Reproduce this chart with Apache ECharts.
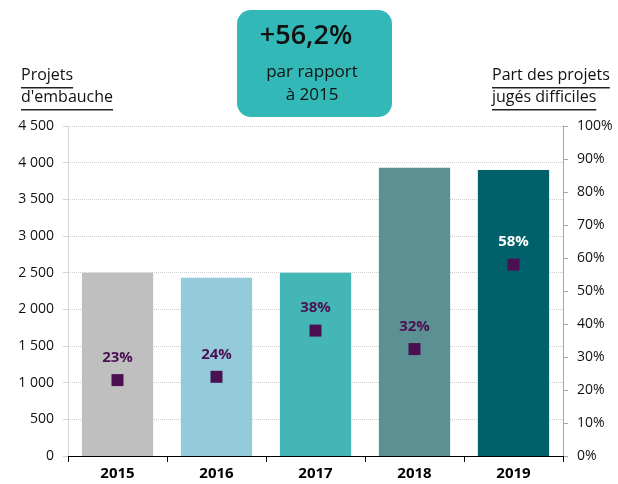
<!DOCTYPE html>
<html>
<head>
	<meta charset="utf-8">
	<title>Projets d'embauche</title>
	<script src="https://cdn.jsdelivr.net/npm/echarts@6/dist/echarts.min.js"></script>
	<style>
		html, body { margin: 0; padding: 0; background: #fff; }
		#chart { width: 618px; height: 484px; }
	</style>
</head>
<body>
	<div id="chart"></div>
	<script>
		var years = ['2015', '2016', '2017', '2018', '2019'];
		var projets = [2500, 2430, 2500, 3930, 3900];
		var partDifficiles = [23, 24, 38, 32.4, 58];
		var barColors = ['#bfbfbf', '#94cbdb', '#45b6b6', '#5b9193', '#00616b'];
		var labelColors = ['#4a1052', '#4a1052', '#4a1052', '#4a1052', '#ffffff'];

		var font = '"Open Sans", "Noto Sans", sans-serif';

		function sep(v) {
			return String(v).replace(/\B(?=(\d{3})+(?!\d))/g, ' ');
		}

		// underline width from the real text width
		var ctx = document.createElement('canvas').getContext('2d');
		ctx.font = '16px "Open Sans"';
		function tw(s) { return ctx.measureText(s).width; }

		function underlined(text, x, y) {
			return [
				{ type: 'text', left: x, top: y, style: { text: text, font: '16px ' + font, fill: '#111' } },
				{ type: 'rect', left: x, top: y + 20, shape: { width: tw(text), height: 1.5 }, style: { fill: '#222' } }
			];
		}

		var chart = echarts.init(document.getElementById('chart'));
		chart.setOption({
			animation: false,
			textStyle: { fontFamily: font },
			grid: { left: 68, right: 55, top: 126, bottom: 28 },
			xAxis: {
				type: 'category',
				data: years,
				axisLine: { lineStyle: { color: '#000', width: 1 } },
				axisTick: { show: true, length: 6, lineStyle: { color: '#000' } },
				axisLabel: { color: '#000', fontSize: 15, fontWeight: 'bold', margin: 10 }
			},
			yAxis: [
				{
					type: 'value', min: 0, max: 4500, interval: 500,
					axisLine: { show: true, lineStyle: { color: '#d4d4d4' } },
					axisTick: { show: true, length: 5, lineStyle: { color: '#d4d4d4' } },
					axisLabel: { color: '#111', fontSize: 14, margin: 14, formatter: sep },
					splitLine: { lineStyle: { color: '#d0d0d0', type: 'dotted' } }
				},
				{
					type: 'value', min: 0, max: 100, interval: 10,
					axisLine: { show: true, lineStyle: { color: '#a6a6a6' } },
					axisTick: { show: true, length: 5, lineStyle: { color: '#a6a6a6' } },
					axisLabel: { color: '#111', fontSize: 14, margin: 14, formatter: '{value}%' },
					splitLine: { show: false }
				}
			],
			series: [
				{
					type: 'bar',
					barWidth: '72%',
					data: projets.map(function (v, i) {
						return { value: v, itemStyle: { color: barColors[i] } };
					})
				},
				{
					type: 'scatter',
					yAxisIndex: 1,
					symbol: 'rect',
					symbolSize: 12,
					itemStyle: { color: '#4a1052', opacity: 1 },
					data: partDifficiles.map(function (v, i) {
						return {
							value: v,
							label: {
								show: true, position: 'top', distance: 9,
								color: labelColors[i], fontSize: 15, fontWeight: 'bold',
								formatter: Math.round(v) + '%'
							}
						};
					})
				}
			],
			graphic: [
				{
					type: 'rect', left: 237, top: 10, z: 10,
					shape: { width: 155, height: 107, r: 14 },
					style: { fill: '#33b8b8' }
				},
				{
					type: 'text', x: 306, y: 36, z: 11,
					style: { text: '+56,2%', font: '600 27px ' + font, fill: '#111', align: 'center', verticalAlign: 'middle' }
				},
				{
					type: 'text', x: 312, y: 72, z: 11,
					style: { text: 'par rapport', font: '17px ' + font, fill: '#111', align: 'center', verticalAlign: 'middle' }
				},
				{
					type: 'text', x: 312, y: 95, z: 11,
					style: { text: 'à 2015', font: '17px ' + font, fill: '#111', align: 'center', verticalAlign: 'middle' }
				}
			].concat(underlined('Projets', 21, 67), underlined("d'embauche", 21, 89),
				underlined('Part des projets', 492, 67), underlined('jugés difficiles', 492, 89))
		});
	</script>
</body>
</html>
